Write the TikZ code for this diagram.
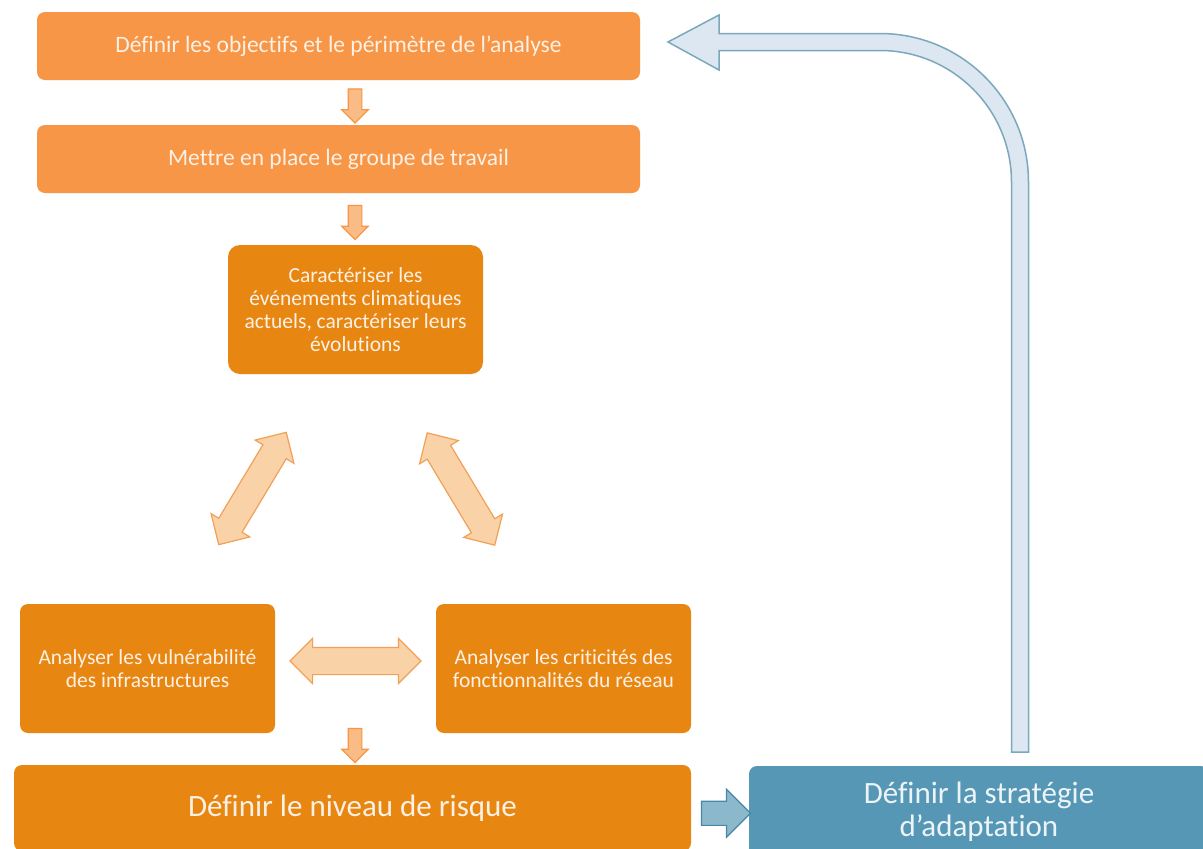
\documentclass[tikz,border=0pt]{standalone}
\usepackage{fontspec}
\setmainfont{Carlito}[Ligatures={NoCommon,NoContextual}]
\usetikzlibrary{shapes.arrows,calc}
\definecolor{orL}{RGB}{247,150,70}
\definecolor{orD}{RGB}{232,134,18}
\definecolor{arrF}{RGB}{250,188,135}
\definecolor{dblF}{RGB}{250,210,168}
\definecolor{dblD}{RGB}{242,160,85}
\definecolor{bluB}{RGB}{86,151,182}
\definecolor{bluAF}{RGB}{140,184,204}
\definecolor{bluAD}{RGB}{72,136,166}
\definecolor{curF}{RGB}{220,231,242}
\definecolor{curD}{RGB}{124,168,188}
\definecolor{txtO}{RGB}{253,240,228}
\definecolor{txtB}{RGB}{236,244,248}
\begin{document}
\begin{tikzpicture}[x=1pt,y=-1pt,
  box/.style={rounded corners=8pt, text=txtO, align=center, inner sep=0pt},
  lightbox/.style={box, fill=orL, minimum width=603pt, minimum height=68pt, font=\fontsize{23.5}{26}\selectfont},
  darkbox/.style={box, fill=orD, minimum width=255pt, minimum height=129pt, font=\fontsize{21.5}{23.2}\selectfont},
  downarr/.style={single arrow, draw=orL, fill=arrF, line width=1.2pt, inner sep=6.25pt, single arrow head extend=6.25pt, minimum height=34pt, rotate=-90},
  dblarr/.style={double arrow, draw=dblD, fill=dblF, line width=1.2pt, inner sep=13pt, double arrow head extend=9pt, minimum height=131pt},
]
\useasboundingbox (0,0) rectangle (1203,849);
\clip (0,0) rectangle (1203,849);
\fill[white] (0,0) rectangle (1203,849);

% boxes
\node[lightbox] (b1) at (338.5,46) {Définir les objectifs et le périmètre de l’analyse};
\node[lightbox] (b2) at (338.5,159) {Mettre en place le groupe de travail};
\node[darkbox, rounded corners=12pt] (b3) at (355.5,309.5) {Caractériser les\\événements climatiques\\actuels, caractériser leurs\\évolutions};
\node[darkbox] (b4) at (147.5,668.5) {Analyser les vulnérabilité\\des infrastructures};
\node[darkbox] (b5) at (563.5,668.5) {Analyser les criticités des\\fonctionnalités du réseau};
\node[box, fill=orD, minimum width=677pt, minimum height=86pt, font=\fontsize{31}{33}\selectfont] (b6) at (352.5,808) {Définir le niveau de risque};
\node[box, fill=bluB, text=txtB, minimum width=460pt, minimum height=91pt, font=\fontsize{31}{33}\selectfont] (b7) at (979,811.5) {Définir la stratégie\\d’adaptation};

% small down arrows
\node[downarr] (a1) at ($(b1.south)!.5!(b2.north)+(16.5,0)$) {};
\node[downarr] (a2) at ($(b2.south)!.5!(b3.north)+(8,0)$) {};
\node[downarr] (a3) at (355,742) {};

% double arrows
\node[dblarr, rotate=59] (d1) at (252.5,488.5) {};
\node[dblarr, rotate=-59] (d2) at (461,489) {};
\node[dblarr] (d3) at ($(b4.east)!.5!(b5.west)+(0,-7.5)$) {};

% blue arrow to strategy
\node[single arrow, draw=bluAD, fill=bluAF, line width=1.2pt, inner sep=11.5pt, single arrow head extend=12pt, minimum height=49pt] (ba) at ($(b6.east)!.5!(b7.west)+(0,3.5)$) {};

% big return arrow
\draw[draw=curD, fill=curF, line width=1.5pt, line join=miter]
  (668,42) -- (719,15) -- (719,33.5) -- (880,33.5)
  .. controls (962,33.5) and (1028.5,100) .. (1028.5,182)
  -- (1028.5,752) -- (1011.5,752) -- (1011.5,182)
  .. controls (1011.5,109.4) and (952.6,50.5) .. (880,50.5)
  -- (719,50.5) -- (719,70) -- cycle;
\end{tikzpicture}
\end{document}
